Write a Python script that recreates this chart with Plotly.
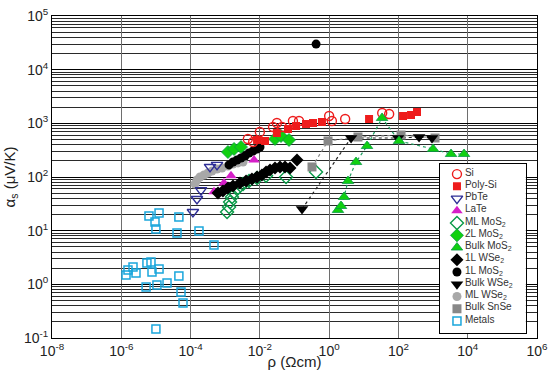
import plotly.graph_objects as go

# ---- Seebeck coefficient (uV/K) versus resistivity (Ohm cm) ----
si_rho = [4.5e-3, 6.4e-3, 1.0e-2, 0.024, 0.031, 0.044, 0.09, 0.135, 1.0, 1.2, 2.9, 34, 54]
si_s = [511, 449, 690, 855, 1015, 855, 1107, 1107, 1370, 1107, 1205, 1560, 1494]

polysi_rho = [8.3e-3, 0.0141, 0.031, 0.065, 0.111, 0.215, 0.343, 0.62, 14.2, 136, 231, 344]
polysi_s = [490, 469, 661, 785, 892, 973, 1015, 1060, 1205, 1370, 1430, 1625]

pbte_rho = [3.64e-4, 5.8e-4, 2.0e-4, 1.53e-4, 1.17e-4]
pbte_s = [154, 168, 57, 39, 22.3]

late_rho = [6.8e-3, 1.47e-3, 9.2e-4, 4.75e-4]
late_s = [207, 105, 77, 53]

ml_mos2_rho = [1.13e-3, 1.29e-3, 1.38e-3, 1.57e-3, 1.8e-3, 2.34e-3, 3.27e-3, 4.87e-3,
               8.3e-3, 0.0151, 0.057, 0.418]
ml_mos2_s = [22.3, 27.6, 34.2, 42.4, 52.6, 62.4, 74, 84, 96, 105, 100, 124]

l2_mos2_rho = [1.2e-3, 1.8e-3, 2.86e-3, 0.0274, 0.0408, 0.0695]
l2_mos2_s = [292, 333, 362, 511, 581, 490]

bulk_mos2_rho = [1.8, 2.2, 2.69, 3.5, 5.97, 12.4, 33.7, 104, 1000, 3300, 7840]
bulk_mos2_s = [24.3, 28.8, 42.4, 84, 190, 378, 1259, 469, 333, 268, 268]

l1_wse2_rho = [6.2e-4, 8.6e-4, 1.2e-3, 1.68e-3, 2.67e-3, 4.0e-3, 5.9e-3, 8.3e-3,
               0.0115, 0.0151, 0.0196, 0.0274, 0.0382, 0.0532, 0.0743, 0.118]
l1_wse2_s = [50.4, 54.9, 62.4, 68, 77.3, 84.3, 91.9, 100, 109, 124, 135, 147, 154, 154, 147, 207]

l1_mos2_rho = [1.29e-3, 1.68e-3, 2.19e-3, 2.86e-3, 3.73e-3, 4.87e-3, 6.35e-3, 8.3e-3, 0.0101, 0.42]
l1_mos2_s = [168, 190, 207, 226, 246, 280, 305, 333, 362, 30000]

bulk_wse2_rho = [0.165, 4.29, 97.5, 394, 933]
bulk_wse2_s = [25.3, 533, 533, 556, 533]

ml_wse2_rho = [1.34e-4, 1.53e-4, 1.87e-4, 2.44e-4, 3.18e-4, 4.16e-4, 5.8e-4, 8.1e-4,
               1.2e-3, 1.68e-3, 2.34e-3, 3.27e-3]
ml_wse2_s = [74, 88, 100, 109, 119, 129, 141, 147, 160, 175, 183, 190]

bulk_snse_rho = [0.32, 0.93, 6.8, 119, 1140]
bulk_snse_s = [154, 469, 556, 606, 533]

metals_rho = [6.3e-6, 1.23e-5, 9.4e-6, 1.0e-5, 4.6e-5, 4.06e-5, 1.75e-4, 4.75e-4,
              1.37e-6, 1.56e-6, 2.18e-6, 2.66e-6, 5.5e-6, 7.2e-6, 7.7e-6, 1.23e-5,
              4.6e-5, 5.2e-6, 1.07e-5, 2.09e-5, 5.3e-5, 6.05e-5, 1.0e-5]
metals_s = [18.8, 21.4, 14.5, 10.7, 18.0, 9.06, 9.9, 5.41,
            1.49, 1.85, 2.1, 1.63, 2.5, 2.61, 1.7, 1.93,
            1.43, 0.89, 0.97, 1.06, 0.72, 0.45, 0.147]

x_exponents = [-8, -6, -4, -2, 0, 2, 4, 6]
y_exponents = [-1, 0, 1, 2, 3, 4, 5]

RED = "#ee1c1c"
GREEN = "#10d010"
EDGE_GREEN = "#0a9a48"

series = [
    ("Si", si_rho, si_s,
     dict(symbol="circle-open", size=9, color=RED, line=dict(width=1.4, color=RED)), None),
    ("Poly-Si", polysi_rho, polysi_s,
     dict(symbol="square", size=8, color=RED), None),
    ("PbTe", pbte_rho, pbte_s,
     dict(symbol="triangle-down-open", size=10, color="#2e2e96", line=dict(width=1.4, color="#2e2e96")), None),
    ("LaTe", late_rho, late_s,
     dict(symbol="triangle-up", size=10, color="#d61fc8"), None),
    ("ML MoS<sub>2</sub>", ml_mos2_rho, ml_mos2_s,
     dict(symbol="diamond-open", size=10, color=EDGE_GREEN, line=dict(width=1.4, color=EDGE_GREEN)), None),
    ("2L MoS<sub>2</sub>", l2_mos2_rho, l2_mos2_s,
     dict(symbol="diamond", size=10, color=GREEN, line=dict(width=0.8, color=EDGE_GREEN)), None),
    ("Bulk MoS<sub>2</sub>", bulk_mos2_rho, bulk_mos2_s,
     dict(symbol="triangle-up", size=10, color=GREEN, line=dict(width=0.8, color=EDGE_GREEN)),
     dict(color="#1f9e60", width=1.2, dash="dot")),
    ("1L WSe<sub>2</sub>", l1_wse2_rho, l1_wse2_s,
     dict(symbol="diamond", size=10, color="black"), None),
    ("1L MoS<sub>2</sub>", l1_mos2_rho, l1_mos2_s,
     dict(symbol="circle", size=9, color="black"), None),
    ("Bulk WSe<sub>2</sub>", bulk_wse2_rho, bulk_wse2_s,
     dict(symbol="triangle-down", size=11, color="black"),
     dict(color="#222222", width=1.2, dash="dot")),
    ("ML WSe<sub>2</sub>", ml_wse2_rho, ml_wse2_s,
     dict(symbol="circle", size=9, color="#a8a8a8"), None),
    ("Bulk SnSe", bulk_snse_rho, bulk_snse_s,
     dict(symbol="square", size=9, color="#888888"),
     dict(color="#888888", width=1.2, dash="dot")),
    ("Metals", metals_rho, metals_s,
     dict(symbol="square-open", size=8, color="#1aa6dc", line=dict(width=1.5, color="#1aa6dc")), None),
]

FONT = "Liberation Sans, Arial, sans-serif"

fig = go.Figure()

# connecting lines go underneath all markers
for name, rho, s, marker, line in series:
    if line is not None:
        fig.add_trace(go.Scatter(x=rho, y=s, mode="lines", line=line,
                                 showlegend=False, hoverinfo="skip"))

draw_order = [12, 10, 2, 3, 4, 5, 7, 8, 0, 1, 11, 9, 6]
for idx in draw_order:
    name, rho, s, marker, line = series[idx]
    fig.add_trace(go.Scatter(x=rho, y=s, mode="markers", marker=marker,
                             name=name, showlegend=False))

# key box drawn as a small inset panel
for row, (name, rho, s, marker, line) in enumerate(series):
    fig.add_trace(go.Scatter(x=[17], y=[-row], mode="markers", marker=marker,
                             xaxis="x2", yaxis="y2", showlegend=False, hoverinfo="skip"))
fig.add_trace(go.Scatter(
    x=[25] * len(series), y=[-r + 0.08 for r in range(len(series))],
    text=[item[0] for item in series], mode="text", textposition="middle right",
    textfont=dict(family=FONT, size=10, color="#333333"),
    xaxis="x2", yaxis="y2", showlegend=False, hoverinfo="skip"))

fig.update_layout(
    width=549, height=370, autosize=False,
    margin=dict(l=52, r=12, t=16, b=32),
    paper_bgcolor="white", plot_bgcolor="white",
    font=dict(family=FONT, color="#222222"),
    showlegend=False,
    xaxis=dict(
        type="log", range=[-8, 6], automargin=False,
        tickvals=[10.0 ** k for k in x_exponents],
        ticktext=[f"10<sup>{k}</sup>" for k in x_exponents],
        tickfont=dict(size=14, family=FONT, color="#222222"),
        showgrid=True, gridcolor="#6e6e6e", gridwidth=1,
        showline=True, linecolor="black", linewidth=1, mirror=True,
        ticks="", zeroline=False,
        title=dict(text="ρ (Ωcm)", font=dict(size=15, family=FONT), standoff=0),
    ),
    yaxis=dict(
        type="log", range=[-1, 5], automargin=False,
        tickvals=[10.0 ** k for k in y_exponents],
        ticktext=[f"10<sup>{k}</sup>" for k in y_exponents],
        tickfont=dict(size=14, family=FONT, color="#222222"),
        showgrid=True, gridcolor="black", gridwidth=1,
        minor=dict(showgrid=True, gridcolor="#2a2a2a", gridwidth=1, dtick="D1", ticks=""),
        showline=True, linecolor="black", linewidth=1, mirror=True,
        ticks="", zeroline=False,
        title=dict(text="α<sub>s</sub> (μV/K)", font=dict(size=15, family=FONT), standoff=4),
    ),
    xaxis2=dict(domain=[0.8, 0.977], anchor="y2", range=[0, 86],
                showgrid=False, zeroline=False, showticklabels=False, ticks="",
                showline=True, linecolor="black", linewidth=1, mirror=True, fixedrange=True),
    yaxis2=dict(domain=[0.0155, 0.540], anchor="x2", range=[-12.98, 0.816],
                showgrid=False, zeroline=False, showticklabels=False, ticks="",
                showline=True, linecolor="black", linewidth=1, mirror=True, fixedrange=True),
)

fig.write_html("out.html")
